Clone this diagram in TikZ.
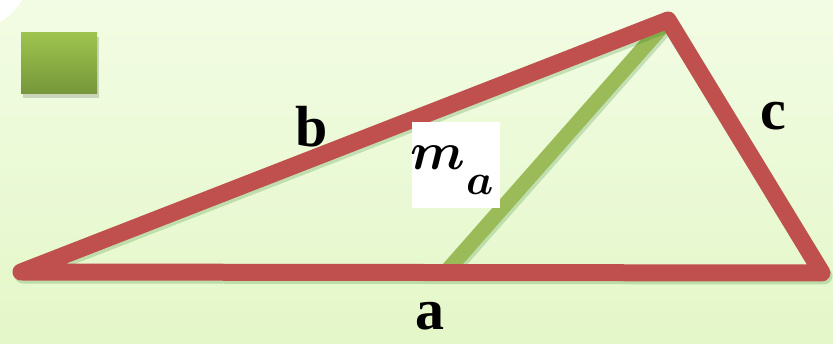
\documentclass[tikz,border=0pt]{standalone}
\usepackage{graphicx}
\usepackage{fontspec}
\usepackage{bm}
\setmainfont{Liberation Serif}
\definecolor{bgtop}{RGB}{242,252,228}
\definecolor{bgbot}{RGB}{228,247,200}
\definecolor{tred}{RGB}{192,80,77}
\definecolor{tgreen}{RGB}{155,187,89}
\definecolor{sqtop}{RGB}{158,195,78}
\definecolor{sqbot}{RGB}{118,150,58}
\tikzset{
  side/.style={draw=tred, line width=17pt, line join=round, line cap=round},
  median/.style={draw=tgreen, line width=15pt},
  shadowline/.style={draw=black!60!green, opacity=0.18, line width=17pt, line join=round, line cap=round},
  lbl/.style={font=\fontsize{58}{60}\selectfont\bfseries, inner sep=0pt, anchor=base}
}
\begin{document}
\begin{tikzpicture}[x=1pt,y=-1pt]
\useasboundingbox (0,0) rectangle (833,344);
\shade[top color=bgtop, bottom color=bgbot] (0,0) rectangle (833,344);
\fill[white] (-30,-30) circle (60);
% green square
\fill[black, opacity=0.15] (23,37) rectangle (99,98);
\shade[top color=sqtop, bottom color=sqbot] (21,33) rectangle (97,94);
% vertices
\coordinate (A) at (21,272);
\coordinate (B) at (668,20);
\coordinate (C) at (822,273);
\coordinate (M) at (445,273);
% median
\draw[shadowline, line width=15pt, line cap=butt] ([shift={(2,3)}]B) -- ([shift={(2,3)}]M);
\draw[median] (B) -- (M);
% triangle
\draw[shadowline] ([shift={(2,3)}]A) -- ([shift={(2,3)}]B) -- ([shift={(2,3)}]C) -- cycle;
\draw[side] (A) -- (B) -- (C) -- cycle;
% labels
\node[lbl] (lb) at (312,147) {b};
\node[lbl] (lc) at (773,130) {c};
\node[lbl] (la) at (430,330) {a};
\node[fill=white, minimum width=88pt, minimum height=86pt, inner sep=0pt, anchor=north west] (mbox) at (412,122) {};
\node[inner sep=0pt, anchor=base west] (mm) at (410,170) {\scalebox{5.3}{$\bm{m}$}};
\node[inner sep=0pt, anchor=base west] (ma) at (466,195) {\scalebox{4.3}{$\bm{a}$}};
\end{tikzpicture}
\end{document}
